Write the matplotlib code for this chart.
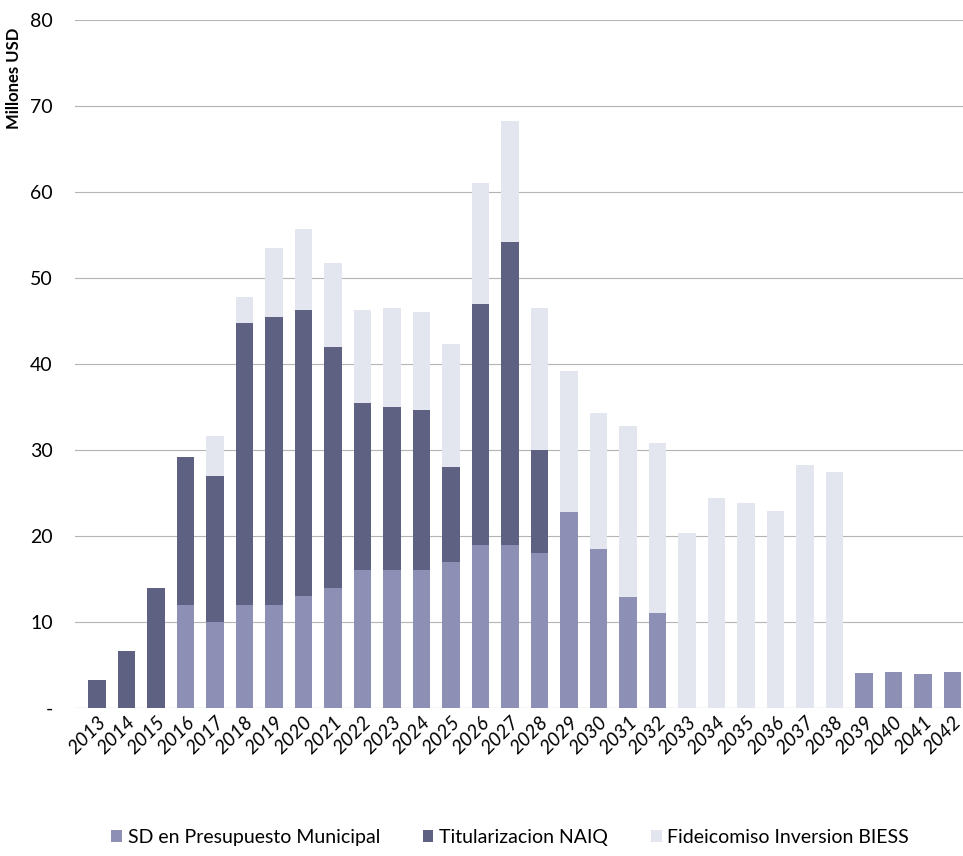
import matplotlib
matplotlib.use("Agg")
import matplotlib.pyplot as plt
import numpy as np

plt.rcParams['font.family'] = ['Lato', 'DejaVu Sans']

years = [str(y) for y in range(2013, 2043)]

# debt service in the municipal budget (bottom segment)
sd_municipal = [0, 0, 0, 12, 10, 12, 12, 13, 14, 16, 16, 16, 17, 19, 19, 18,
                22.8, 18.5, 12.9, 11, 0, 0, 0, 0, 0, 0, 4.1, 4.2, 4.0, 4.2]
# top of the dark part of each column
dark_top = [3.2, 6.6, 14, 29.2, 27, 44.8, 45.5, 46.3, 42, 35.5, 35, 34.6, 28,
            47, 54.2, 30, 22.8, 18.5, 12.9, 11, 0, 0, 0, 0, 0, 0, 4.1, 4.2, 4.0, 4.2]
# full column height
totals = [3.2, 6.6, 14, 29.2, 31.6, 47.8, 53.5, 55.7, 51.8, 46.3, 46.5, 46, 42.3,
          61, 68.3, 46.5, 39.2, 34.3, 32.8, 30.8, 20.3, 24.4, 23.8, 22.9, 28.3,
          27.4, 4.1, 4.2, 4.0, 4.2]

sd = np.array(sd_municipal)
titularizacion = np.array(dark_top) - sd
biess = np.array(totals) - np.array(dark_top)

c_sd = '#8d8fb5'
c_tit = '#5f6182'
c_biess = '#e3e5ef'

fig = plt.figure(figsize=(9.63, 8.56), dpi=100)
ax = fig.add_axes([75 / 963, 1 - 708 / 856, 888 / 963, 688 / 856])

x = np.arange(len(years))
w = 0.6
ax.bar(x, sd, w, color=c_sd, label='SD en Presupuesto Municipal', zorder=3)
ax.bar(x, titularizacion, w, bottom=sd, color=c_tit,
       label='Titularizacion NAIQ', zorder=3)
ax.bar(x, biess, w, bottom=sd + titularizacion, color=c_biess,
       label='Fideicomiso Inversion BIESS', zorder=3)

ax.set_xlim(-0.75, 29.36)
ax.set_ylim(0, 80)
ax.set_yticks(range(0, 81, 10))
ax.set_yticklabels(['-'] + [str(v) for v in range(10, 81, 10)], fontsize=14)
ax.yaxis.grid(True, color='#b4b4b4', linewidth=0.8, zorder=0)
ax.axhline(0, color='#c4c4c4', linewidth=0.8, zorder=1)
ax.tick_params(axis='y', length=0, pad=16)
ax.tick_params(axis='x', length=0, pad=4)
for s in ax.spines.values():
    s.set_visible(False)

ax.set_xticks(x)
ax.set_xticklabels(years, rotation=45, ha='right', rotation_mode='anchor',
                   fontsize=14, fontstyle='italic')

fig.text(14 / 963, 1 - 78 / 856, 'Millones USD', rotation=90, fontsize=12,
         fontweight='bold', ha='center', va='center')

ax.legend(loc='upper center', bbox_to_anchor=(0.49, -0.15), ncol=3,
          frameon=False, fontsize=14, handlelength=0.55, handleheight=0.6,
          handletextpad=0.3, columnspacing=2.2)

fig.savefig('out.png', dpi=100, facecolor='white')
